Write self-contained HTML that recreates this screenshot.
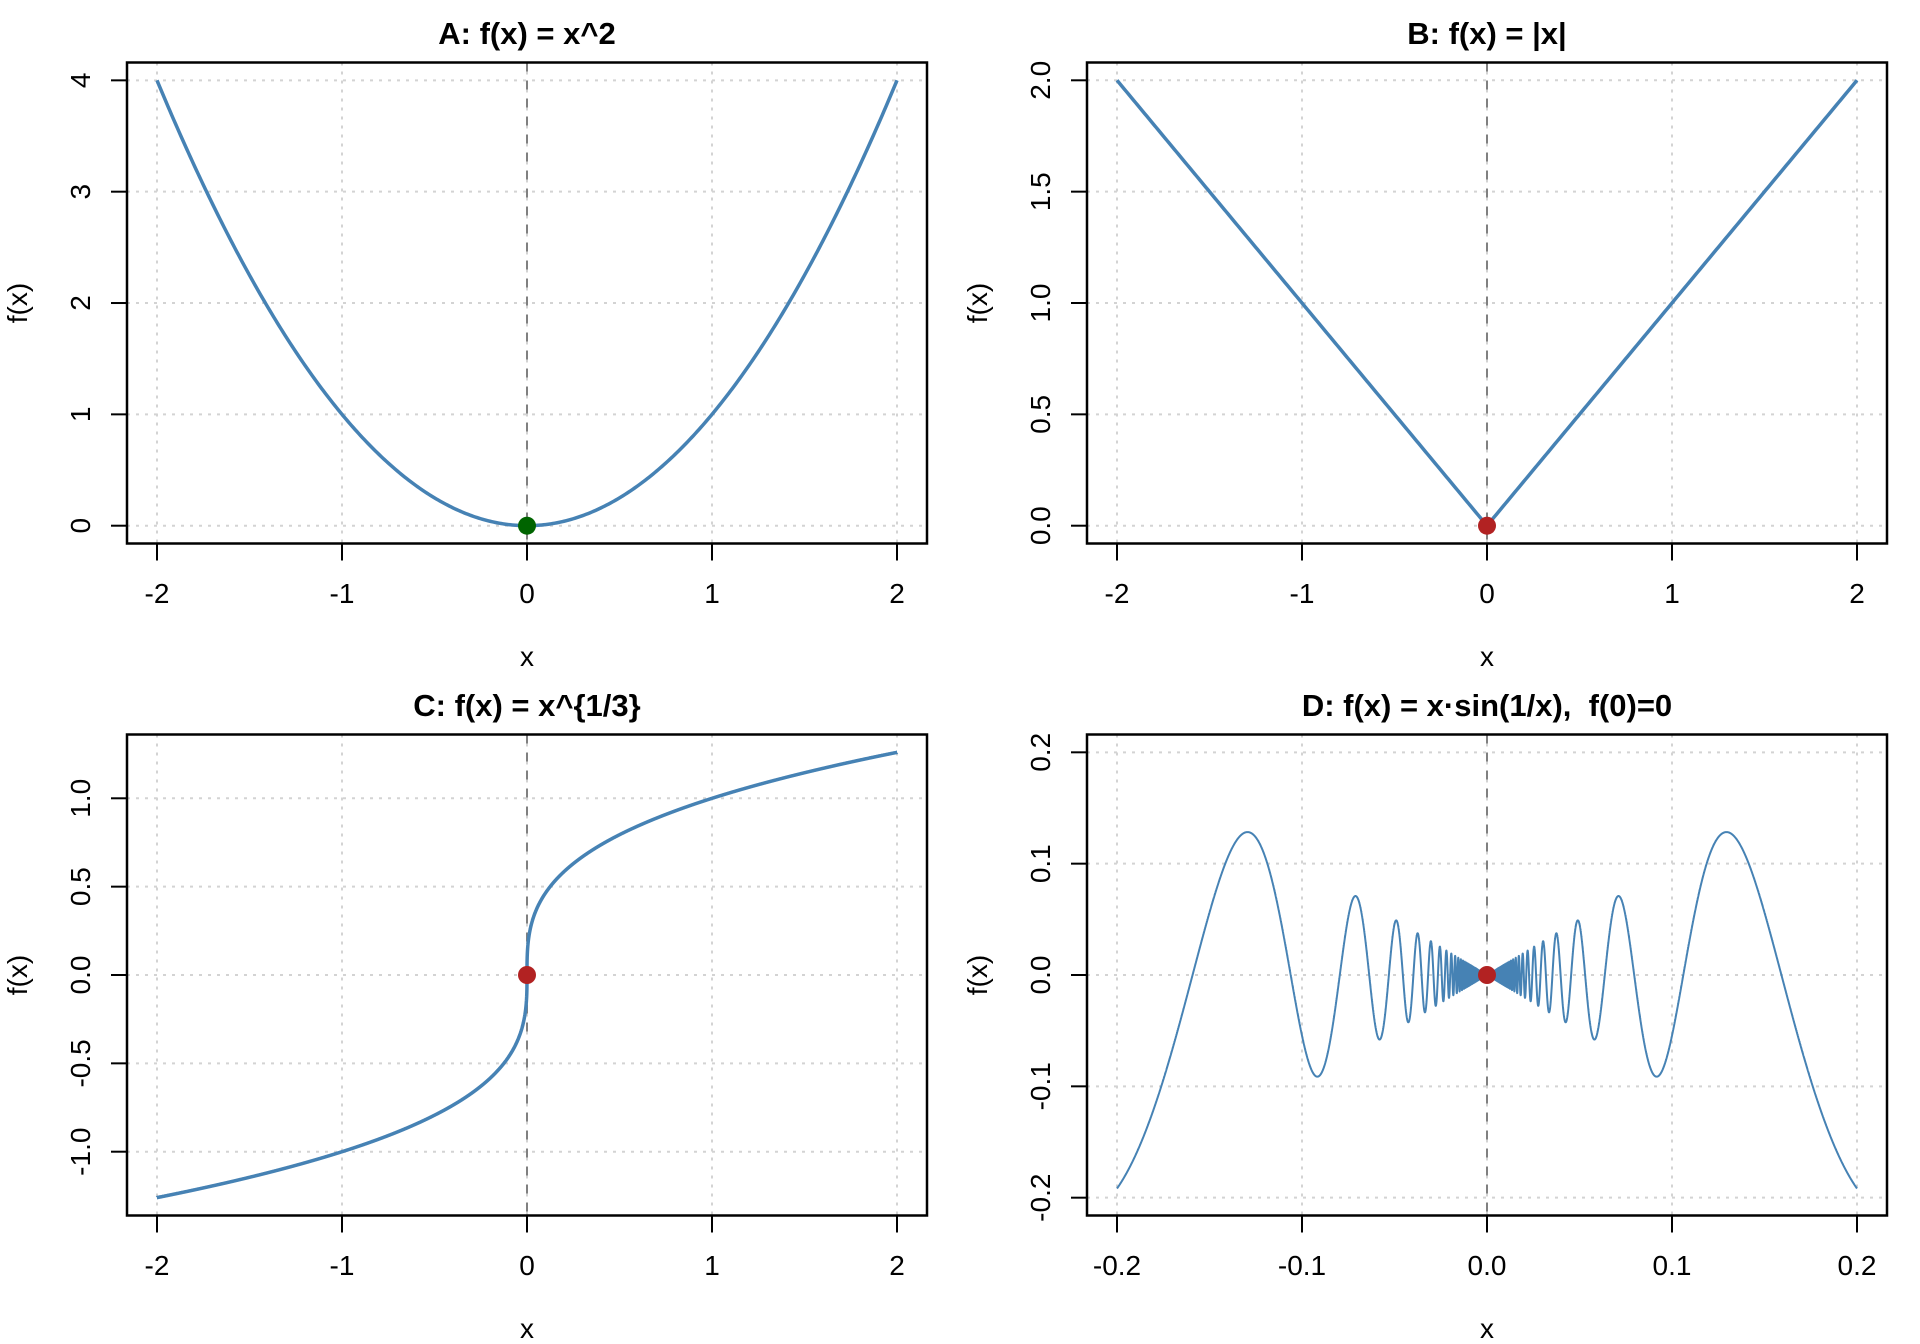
<!DOCTYPE html>
<html><head><meta charset="utf-8"><style>
body{margin:0;background:#fff}
svg{display:block}
text{font-family:"Liberation Sans",Arial,sans-serif;fill:#000}
.t{font-size:28px}
.m{font-size:31px;font-weight:bold}
</style></head><body>
<svg id="s" width="1920" height="1344" viewBox="0 0 1920 1344" xmlns="http://www.w3.org/2000/svg">
<g id="g"></g>
<!-- Panel A -->
<text class="m" x="527" y="44" text-anchor="middle">A: f(x) = x^2</text>
<text class="t" x="157" y="603" text-anchor="middle">-2</text>
<text class="t" x="342" y="603" text-anchor="middle">-1</text>
<text class="t" x="527" y="603" text-anchor="middle">0</text>
<text class="t" x="712" y="603" text-anchor="middle">1</text>
<text class="t" x="897" y="603" text-anchor="middle">2</text>
<text class="t" x="527" y="666" text-anchor="middle">x</text>
<text class="t" transform="translate(27,303) rotate(-90)" text-anchor="middle">f(x)</text>
<text class="t" transform="translate(90,525.7) rotate(-90)" text-anchor="middle">0</text>
<text class="t" transform="translate(90,414.4) rotate(-90)" text-anchor="middle">1</text>
<text class="t" transform="translate(90,303) rotate(-90)" text-anchor="middle">2</text>
<text class="t" transform="translate(90,191.7) rotate(-90)" text-anchor="middle">3</text>
<text class="t" transform="translate(90,80.3) rotate(-90)" text-anchor="middle">4</text>
<!-- Panel B -->
<text class="m" x="1487" y="44" text-anchor="middle">B: f(x) = |x|</text>
<text class="t" x="1117" y="603" text-anchor="middle">-2</text>
<text class="t" x="1302" y="603" text-anchor="middle">-1</text>
<text class="t" x="1487" y="603" text-anchor="middle">0</text>
<text class="t" x="1672" y="603" text-anchor="middle">1</text>
<text class="t" x="1857" y="603" text-anchor="middle">2</text>
<text class="t" x="1487" y="666" text-anchor="middle">x</text>
<text class="t" transform="translate(987,303) rotate(-90)" text-anchor="middle">f(x)</text>
<text class="t" transform="translate(1050,525.7) rotate(-90)" text-anchor="middle">0.0</text>
<text class="t" transform="translate(1050,414.4) rotate(-90)" text-anchor="middle">0.5</text>
<text class="t" transform="translate(1050,303) rotate(-90)" text-anchor="middle">1.0</text>
<text class="t" transform="translate(1050,191.7) rotate(-90)" text-anchor="middle">1.5</text>
<text class="t" transform="translate(1050,80.3) rotate(-90)" text-anchor="middle">2.0</text>
<!-- Panel C -->
<text class="m" x="527" y="716" text-anchor="middle">C: f(x) = x^{1/3}</text>
<text class="t" x="157" y="1275" text-anchor="middle">-2</text>
<text class="t" x="342" y="1275" text-anchor="middle">-1</text>
<text class="t" x="527" y="1275" text-anchor="middle">0</text>
<text class="t" x="712" y="1275" text-anchor="middle">1</text>
<text class="t" x="897" y="1275" text-anchor="middle">2</text>
<text class="t" x="527" y="1338" text-anchor="middle">x</text>
<text class="t" transform="translate(27,975) rotate(-90)" text-anchor="middle">f(x)</text>
<text class="t" transform="translate(90,1151.7) rotate(-90)" text-anchor="middle">-1.0</text>
<text class="t" transform="translate(90,1063.4) rotate(-90)" text-anchor="middle">-0.5</text>
<text class="t" transform="translate(90,975) rotate(-90)" text-anchor="middle">0.0</text>
<text class="t" transform="translate(90,886.6) rotate(-90)" text-anchor="middle">0.5</text>
<text class="t" transform="translate(90,798.3) rotate(-90)" text-anchor="middle">1.0</text>
<!-- Panel D -->
<text class="m" x="1487" y="716" text-anchor="middle">D: f(x) = x·sin(1/x),&#160; f(0)=0</text>
<text class="t" x="1117" y="1275" text-anchor="middle">-0.2</text>
<text class="t" x="1302" y="1275" text-anchor="middle">-0.1</text>
<text class="t" x="1487" y="1275" text-anchor="middle">0.0</text>
<text class="t" x="1672" y="1275" text-anchor="middle">0.1</text>
<text class="t" x="1857" y="1275" text-anchor="middle">0.2</text>
<text class="t" x="1487" y="1338" text-anchor="middle">x</text>
<text class="t" transform="translate(987,975) rotate(-90)" text-anchor="middle">f(x)</text>
<text class="t" transform="translate(1050,1197.7) rotate(-90)" text-anchor="middle">-0.2</text>
<text class="t" transform="translate(1050,1086.3) rotate(-90)" text-anchor="middle">-0.1</text>
<text class="t" transform="translate(1050,975) rotate(-90)" text-anchor="middle">0.0</text>
<text class="t" transform="translate(1050,863.7) rotate(-90)" text-anchor="middle">0.1</text>
<text class="t" transform="translate(1050,752.3) rotate(-90)" text-anchor="middle">0.2</text>
</svg>
<script>
(function(){
var g=document.getElementById('g'),NS='http://www.w3.org/2000/svg';
function el(n,a){var e=document.createElementNS(NS,n);for(var k in a)e.setAttribute(k,a[k]);g.appendChild(e);return e;}
function panel(ox,oy,xs,ys,y0,yticks,f,xmin,xmax,n,lw,col){
  var L=127+ox,R=927+ox,T=62.5+oy,B=543.5+oy;
  function X(x){return 527+ox+x*xs;} function Y(y){return y0+oy-y*ys;}
  var xt=[-2,-1,0,1,2].map(function(v){return v*(xs==185?1:0.1);});
  xt.forEach(function(v){var px=X(v);
    el('line',{x1:px,x2:px,y1:T,y2:B,stroke:'#d3d3d3','stroke-width':2,'stroke-dasharray':'3,6'});
    el('line',{x1:px,x2:px,y1:B,y2:B+17,stroke:'#000','stroke-width':2});});
  yticks.forEach(function(v){var py=Y(v);
    el('line',{x1:L,x2:R,y1:py,y2:py,stroke:'#d3d3d3','stroke-width':2,'stroke-dasharray':'3,6'});
    el('line',{x1:L-16,x2:L,y1:py,y2:py,stroke:'#000','stroke-width':2});});
  el('line',{x1:X(0),x2:X(0),y1:T,y2:B,stroke:'#808080','stroke-width':2,'stroke-dasharray':'9,9'});
  var d='';
  for(var i=0;i<=n;i++){var x=xmin+(xmax-xmin)*i/n;var y=f(x);d+=(i?'L':'M')+X(x).toFixed(2)+' '+Y(y).toFixed(2);}
  el('path',{d:d,fill:'none',stroke:'#4682B4','stroke-width':lw,'stroke-linejoin':'round'});
  el('circle',{cx:X(0),cy:Y(0),r:9,fill:col});
  el('rect',{x:L,y:T,width:R-L,height:B-T,fill:'none',stroke:'#000','stroke-width':2.5});
}
panel(0,0,185,111.34,525.7,[0,1,2,3,4],function(x){return x*x;},-2,2,400,3.5,'#006400');
panel(960,0,185,222.7,525.7,[0,0.5,1,1.5,2],function(x){return Math.abs(x);},-2,2,400,3.5,'#B22222');
panel(0,672,185,176.7,303,[-1,-0.5,0,0.5,1],function(x){return x<0?-Math.pow(-x,1/3):Math.pow(x,1/3);},-2,2,40000,3.5,'#B22222');
panel(960,672,1850,1113.4,303,[-0.2,-0.1,0,0.1,0.2],function(x){return x==0?0:x*Math.sin(1/x);},-0.2,0.2,20000,2,'#B22222');
})();
</script>
</body></html>
